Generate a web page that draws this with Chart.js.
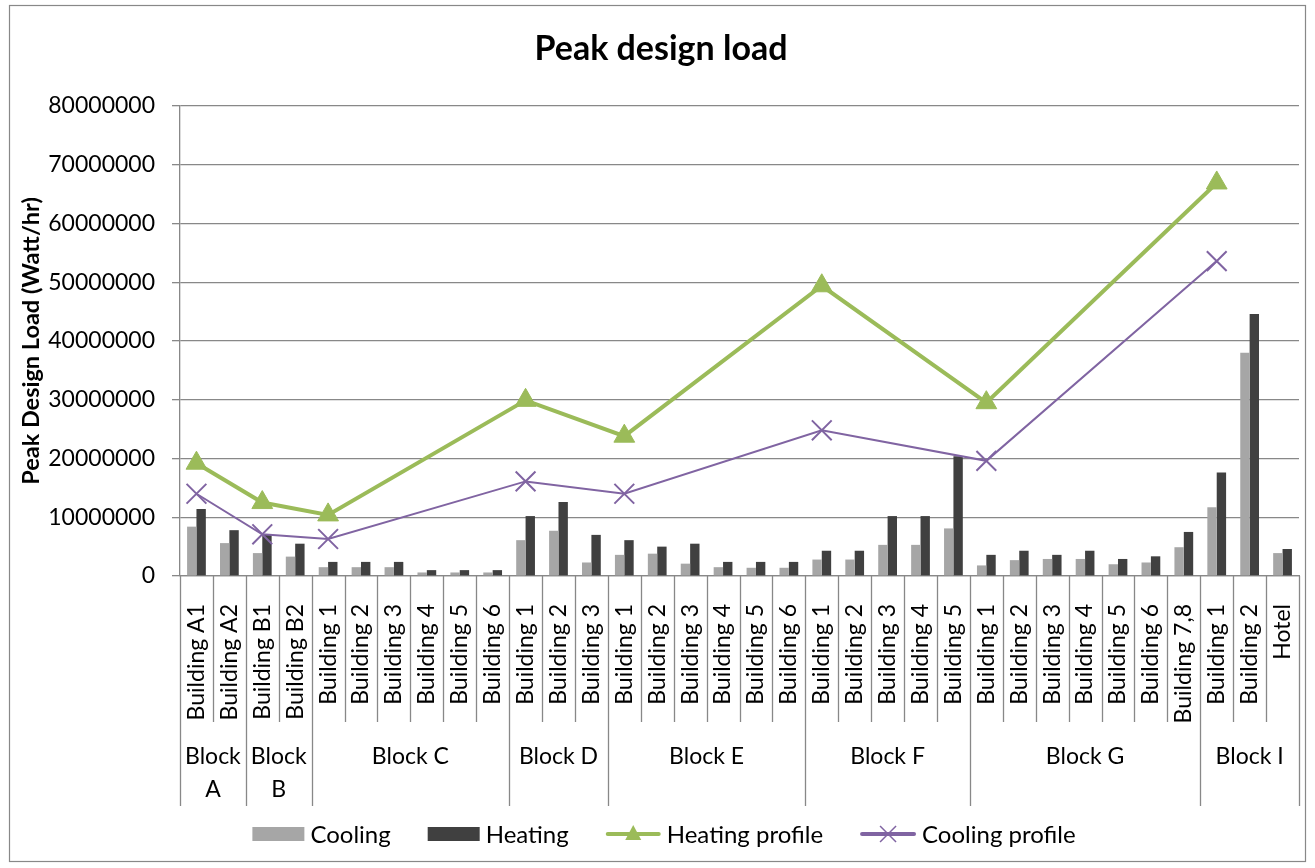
<!DOCTYPE html>
<html>
<head>
<meta charset="utf-8">
<title>Peak design load</title>
<script src="https://cdn.jsdelivr.net/npm/chart.js@4.4.1/dist/chart.umd.min.js"></script>
<style>
  body { margin: 0; background: #fff; }
  #wrap { position: relative; width: 1315px; height: 868px; }
</style>
</head>
<body>
<div id="wrap"><canvas id="myChart"></canvas></div>
<script>
// categories (buildings) and the blocks they belong to
const buildings = [
  'Building A1', 'Building A2',
  'Building B1', 'Building B2',
  'Building 1', 'Building 2', 'Building 3', 'Building 4', 'Building 5', 'Building 6',
  'Building 1', 'Building 2', 'Building 3',
  'Building 1', 'Building 2', 'Building 3', 'Building 4', 'Building 5', 'Building 6',
  'Building 1', 'Building 2', 'Building 3', 'Building 4', 'Building 5',
  'Building 1', 'Building 2', 'Building 3', 'Building 4', 'Building 5', 'Building 6', 'Building 7,8',
  'Building 1', 'Building 2', 'Hotel'
];
const blockNames = ['Block A', 'Block B', 'Block C', 'Block D', 'Block E', 'Block F', 'Block G', 'Block I'];
const blockSizes = [2, 2, 6, 3, 6, 5, 7, 3];

// bar values (Watt/hr)
const cooling = [
  8400000, 5600000,
  3900000, 3300000,
  1500000, 1500000, 1500000, 600000, 600000, 600000,
  6100000, 7700000, 2300000,
  3600000, 3800000, 2100000, 1500000, 1400000, 1400000,
  2800000, 2800000, 5300000, 5300000, 8100000,
  1800000, 2700000, 2900000, 2900000, 2000000, 2300000, 4900000,
  11700000, 38000000, 3900000
];
const heating = [
  11400000, 7800000,
  7100000, 5500000,
  2400000, 2400000, 2400000, 1000000, 1000000, 1000000,
  10200000, 12600000, 7000000,
  6100000, 5000000, 5500000, 2400000, 2400000, 2400000,
  4300000, 4300000, 10200000, 10200000, 20400000,
  3600000, 4300000, 3600000, 4300000, 2900000, 3350000, 7500000,
  17600000, 44600000, 4600000
];

// block totals, plotted at the first building of each block
const heatingProfile = [19200000, 12500000, 10400000, 29900000, 23800000, 49400000, 29500000, 66900000];
const coolingProfile = [14000000, 7100000, 6300000, 16100000, 14000000, 24800000, 19600000, 53600000];

const yTicks = [0, 10000000, 20000000, 30000000, 40000000, 50000000, 60000000, 70000000, 80000000];

const FONT = 'Lato, "Open Sans", sans-serif';
const GRID = '#888888';

// first index of every block
const blockStarts = [];
let pos = 0;
blockSizes.forEach(function (n) { blockStarts.push(pos); pos += n; });

function profileSeries(values) {
  const out = buildings.map(function () { return null; });
  blockStarts.forEach(function (start, i) { out[start] = values[i]; });
  return out;
}

// title, frame, two-level x axis and legend
const decorations = {
  id: 'decorations',
  beforeDraw(chart) {
    const ctx = chart.ctx;
    ctx.save();
    ctx.fillStyle = '#fff';
    ctx.fillRect(0, 0, chart.width, chart.height);
    ctx.strokeStyle = GRID;
    ctx.lineWidth = 1.2;
    ctx.strokeRect(9.5, 5.5, 1296, 856);
    ctx.restore();
  },
  afterDraw(chart) {
    const ctx = chart.ctx;
    const x = chart.scales.x;
    const area = chart.chartArea;
    const w = (x.right - x.left) / buildings.length;
    const yAxis = area.bottom;
    const yMid = yAxis + 146;
    const yBot = yAxis + 230;

    ctx.save();
    ctx.strokeStyle = GRID;
    ctx.lineWidth = 1.3;
    ctx.beginPath();
    for (let k = 0; k <= buildings.length; k++) {
      const px = Math.round(x.left + k * w) + 0.5;
      const isBlockEdge = k === buildings.length || blockStarts.indexOf(k) !== -1;
      ctx.moveTo(px, yAxis);
      ctx.lineTo(px, isBlockEdge ? yBot : yMid);
    }
    ctx.stroke();

    // block labels
    ctx.fillStyle = '#000';
    ctx.font = '23px ' + FONT;
    ctx.textAlign = 'center';
    ctx.textBaseline = 'middle';
    blockNames.forEach(function (name, i) {
      const cx = x.left + (blockStarts[i] + blockSizes[i] / 2) * w;
      const avail = blockSizes[i] * w - 4;
      if (ctx.measureText(name).width > avail) {
        const parts = name.split(' ');
        ctx.fillText(parts[0], cx, yMid + 35);
        ctx.fillText(parts.slice(1).join(' '), cx, yMid + 68);
      } else {
        ctx.fillText(name, cx, yMid + 35);
      }
    });

    // chart title
    ctx.font = 'bold 34px ' + FONT;
    ctx.textBaseline = 'alphabetic';
    ctx.fillText('Peak design load', 661, 60);

    // legend
    const items = [
      { label: 'Cooling', type: 'box', color: '#A6A6A6', w: 52 },
      { label: 'Heating', type: 'box', color: '#404040', w: 52 },
      { label: 'Heating profile', type: 'tri', color: '#9BBB59', w: 55 },
      { label: 'Cooling profile', type: 'cross', color: '#8064A2', w: 56 }
    ];
    ctx.font = '24px ' + FONT;
    let total = 0;
    items.forEach(function (it, i) {
      it.tw = ctx.measureText(it.label).width;
      total += it.w + 6 + it.tw + (i < items.length - 1 ? 37 : 0);
    });
    let lx = 664 - total / 2;
    const ly = 834;
    ctx.textAlign = 'left';
    ctx.textBaseline = 'middle';
    items.forEach(function (it) {
      if (it.type === 'box') {
        ctx.fillStyle = it.color;
        ctx.fillRect(lx, ly - 7, it.w, 14);
      } else {
        ctx.strokeStyle = it.color;
        ctx.lineWidth = 4;
        ctx.lineCap = 'round';
        ctx.beginPath();
        ctx.moveTo(lx + 2, ly);
        ctx.lineTo(lx + it.w - 2, ly);
        ctx.stroke();
        const cx = lx + it.w / 2;
        if (it.type === 'tri') {
          ctx.fillStyle = it.color;
          ctx.beginPath();
          ctx.moveTo(cx, ly - 9);
          ctx.lineTo(cx + 8, ly + 6);
          ctx.lineTo(cx - 8, ly + 6);
          ctx.closePath();
          ctx.fill();
        } else {
          ctx.lineWidth = 1.5;
          ctx.lineCap = 'butt';
          ctx.beginPath();
          ctx.moveTo(cx - 8, ly - 8);
          ctx.lineTo(cx + 8, ly + 8);
          ctx.moveTo(cx + 8, ly - 8);
          ctx.lineTo(cx - 8, ly + 8);
          ctx.stroke();
        }
      }
      ctx.fillStyle = '#000';
      ctx.fillText(it.label, lx + it.w + 6, ly + 1);
      lx += it.w + 6 + it.tw + 37;
    });
    ctx.restore();
  }
};

const ctx = document.getElementById('myChart');

new Chart(ctx, {
  type: 'bar',
  data: {
    labels: buildings,
    datasets: [
      {
        label: 'Cooling',
        data: cooling,
        backgroundColor: '#A6A6A6',
        categoryPercentage: 0.57,
        barPercentage: 1.0,
        order: 2
      },
      {
        label: 'Heating',
        data: heating,
        backgroundColor: '#404040',
        categoryPercentage: 0.57,
        barPercentage: 1.0,
        order: 2
      },
      {
        type: 'line',
        label: 'Heating profile',
        data: profileSeries(heatingProfile),
        borderColor: '#9BBB59',
        backgroundColor: '#9BBB59',
        borderWidth: 4,
        pointStyle: 'triangle',
        pointRadius: 12,
        pointBorderWidth: 1,
        spanGaps: true,
        tension: 0,
        order: 1
      },
      {
        type: 'line',
        label: 'Cooling profile',
        data: profileSeries(coolingProfile),
        borderColor: '#8064A2',
        backgroundColor: '#8064A2',
        borderWidth: 2,
        pointStyle: 'crossRot',
        pointRadius: 14,
        pointBorderWidth: 2,
        spanGaps: true,
        tension: 0,
        order: 0
      }
    ]
  },
  plugins: [decorations],
  options: {
    responsive: true,
    maintainAspectRatio: false,
    animation: false,
    layout: { padding: { top: 106, right: 14, bottom: 62, left: 0 } },
    plugins: {
      legend: { display: false },
      title: { display: false },
      tooltip: { enabled: false }
    },
    scales: {
      x: {
        offset: true,
        grid: { display: false },
        border: { display: true, color: GRID, width: 1.3 },
        ticks: {
          autoSkip: false,
          minRotation: 90,
          maxRotation: 90,
          padding: 20,
          color: '#000',
          font: { family: FONT, size: 23 }
        },
        afterFit(scale) {
          scale.height = 230;
          scale.paddingLeft = 0;
          scale.paddingRight = 0;
        }
      },
      y: {
        min: 0,
        max: 80000000,
        afterBuildTicks(scale) {
          scale.ticks = yTicks.map(function (v) { return { value: v }; });
        },
        grid: { color: GRID, lineWidth: 1.3, tickLength: 8 },
        border: { display: true, color: GRID, width: 1.3 },
        ticks: {
          padding: 17,
          color: '#000',
          font: { family: FONT, size: 23 },
          callback: function (value) { return String(value); }
        },
        title: {
          display: true,
          text: 'Peak Design Load (Watt/hr)',
          color: '#000',
          font: { family: FONT, size: 23.5, weight: 'bold' },
          padding: { top: 17, bottom: 0 }
        },
        afterFit(scale) {
          scale.width = 180;
          scale.paddingTop = 0;
          scale.paddingBottom = 0;
        }
      }
    }
  }
});
</script>
</body>
</html>
